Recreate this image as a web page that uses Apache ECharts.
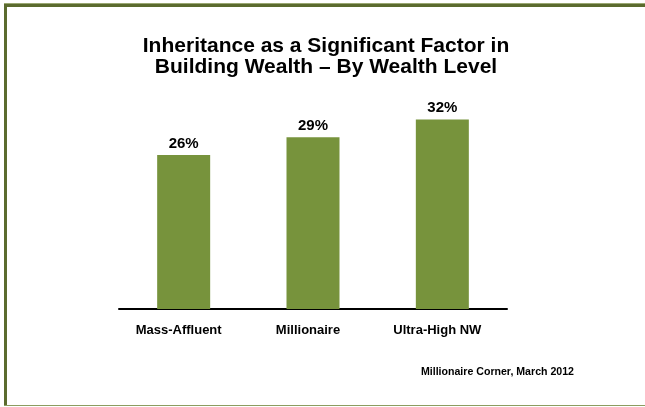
<!DOCTYPE html>
<html>
<head>
<meta charset="utf-8">
<script src="https://cdn.jsdelivr.net/npm/echarts@6/dist/echarts.min.js"></script>
<style>html,body{margin:0;padding:0;background:#fff;}#c{width:645px;height:407px;}</style>
</head>
<body>
<div id="c"></div>
<script>
const categories = ['Mass-Affluent', 'Millionaire', 'Ultra-High NW'];
const values = [26, 29, 32];
const titleText = 'Inheritance as a Significant Factor in\nBuilding Wealth \u2013 By Wealth Level';
const sourceText = 'Millionaire Corner, March 2012';

const chart = echarts.init(document.getElementById('c'), null, {renderer: 'canvas'});
chart.setOption({
  animation: false,
  backgroundColor: '#ffffff',
  title: {
    text: titleText,
    left: 321, top: 31, textAlign: 'center',
    textStyle: {fontFamily: 'Liberation Sans, Arial', fontWeight: 'bold', fontSize: 21, lineHeight: 21, color: '#000'}
  },
  grid: {left: 119, right: 138, top: 72, bottom: 98},
  xAxis: {
    type: 'category', data: categories,
    axisLine: {lineStyle: {color: '#000', width: 2}},
    axisTick: {show: false},
    axisLabel: {margin: 15, padding: [0, 10, 0, 0], fontFamily: 'Liberation Sans, Arial', fontWeight: 'bold', fontSize: 13, color: '#000'}
  },
  yAxis: {type: 'value', min: 0, max: 40, show: false, splitLine: {show: false}},
  series: [{
    type: 'bar', data: values, barWidth: 53,
    itemStyle: {color: '#77933C'},
    label: {show: true, position: 'top', distance: 4, formatter: '{c}%',
      fontFamily: 'Liberation Sans, Arial', fontWeight: 'bold', fontSize: 15, color: '#000'}
  }],
  graphic: [
    {type: 'rect', shape: {x: 4, y: 3, width: 641, height: 1}, style: {fill: '#9aa873'}},
    {type: 'rect', shape: {x: 4, y: 4, width: 641, height: 3}, style: {fill: '#5b6b2e'}},
    {type: 'rect', shape: {x: 4, y: 4, width: 3, height: 402}, style: {fill: '#5b6b2e'}},
    {type: 'rect', shape: {x: 4, y: 405, width: 641, height: 1}, style: {fill: '#8c9c60'}},
    {type: 'text', right: 71, top: 367, style: {text: sourceText, fontFamily: 'Liberation Sans, Arial', fontWeight: 'bold', fontSize: 10.6, fill: '#000'}}
  ]
});
</script>
</body>
</html>
